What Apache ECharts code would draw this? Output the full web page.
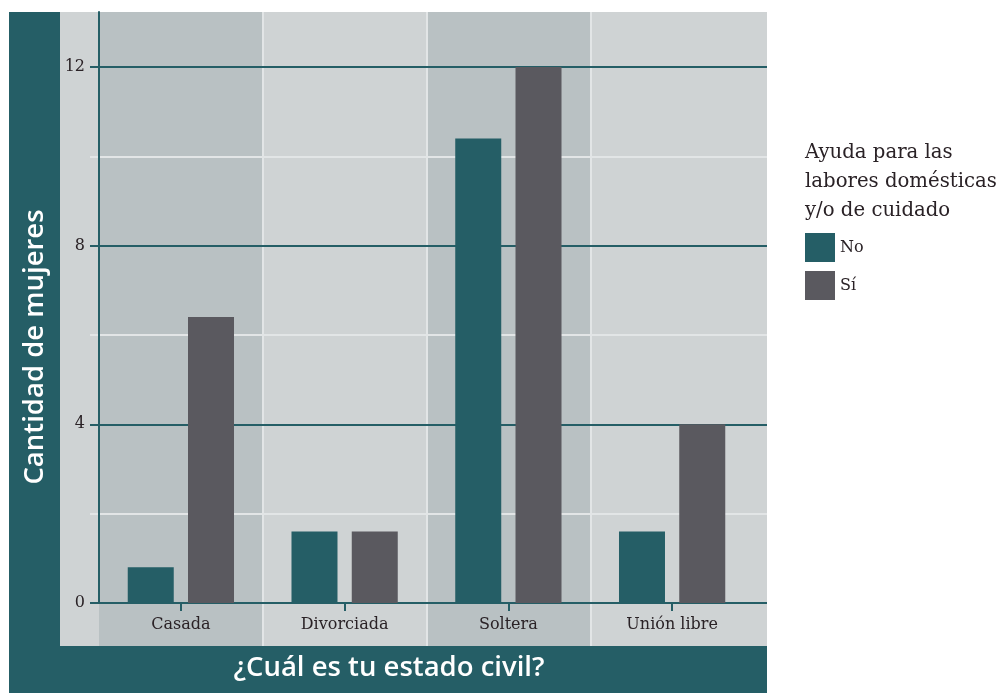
<!DOCTYPE html>
<html>
<head>
<meta charset="utf-8">
<script src="https://cdn.jsdelivr.net/npm/echarts@6/dist/echarts.min.js"></script>
<style>
html,body{margin:0;padding:0;background:#fff;}
#c{width:1001px;height:693px;}
</style>
</head>
<body>
<div id="c"></div>
<script>
var categories = ['Casada', 'Divorciada', 'Soltera', 'Unión libre'];
var seriesNames = ['No', 'Sí'];
var valuesNo = [0.8, 1.6, 10.4, 1.6];
var valuesSi = [6.4, 1.6, 12, 4];
var yTicks = [0, 4, 8, 12];
var yMax = 13.23;

var TEAL = '#255e66';
var GREY_BAR = '#5a595f';
var PANEL = '#cfd3d4';
var BAND = '#b9c1c3';
var WHITE_LINE = '#e2e5e6';
var TEXT = '#2a2226';
var SERIF = '"DejaVu Serif", serif';
var SANS = '"Open Sans", "Noto Sans", sans-serif';

var chart = echarts.init(document.getElementById('c'), null, {renderer: 'canvas'});
chart.setOption({
  animation: false,
  backgroundColor: '#ffffff',
  graphic: [
    {type: 'rect', z: -20, shape: {x: 9, y: 12, width: 758, height: 681}, style: {fill: TEAL}},
    {type: 'rect', z: -19, shape: {x: 60, y: 12, width: 707, height: 634}, style: {fill: PANEL}},
    {type: 'text', z: 10, x: 35, y: 347, rotation: Math.PI / 2,
      style: {text: 'Cantidad de mujeres', fill: '#ffffff', font: '600 27.5px ' + SANS, align: 'center', verticalAlign: 'middle'}},
    {type: 'text', z: 10, x: 389, y: 668,
      style: {text: '¿Cuál es tu estado civil?', fill: '#ffffff', font: '600 27.5px ' + SANS, align: 'center', verticalAlign: 'middle'}},
    {type: 'text', z: 10, x: 805, y: 138,
      style: {text: 'Ayuda para las\nlabores domésticas\ny/o de cuidado', fill: TEXT, font: '19.7px ' + SERIF, lineHeight: 29, align: 'left', verticalAlign: 'top'}}
  ],
  legend: {
    data: seriesNames,
    orient: 'vertical',
    left: 805,
    top: 233,
    padding: 0,
    itemWidth: 30,
    itemHeight: 29,
    itemGap: 9,
    icon: 'rect',
    textStyle: {fontFamily: SERIF, fontSize: 16, color: TEXT}
  },
  grid: [
    {left: 99, top: 12, width: 655, bottom: 90},
    {left: 90, top: 12, right: 234, bottom: 90},
    {left: 99, top: 12, width: 655, bottom: 47}
  ],
  xAxis: [
    {
      gridIndex: 0, type: 'category', data: categories, z: 3,
      axisLine: {show: true, lineStyle: {color: TEAL, width: 2}},
      axisTick: {show: true, alignWithLabel: true, length: 8, lineStyle: {color: TEAL, width: 2}},
      axisLabel: {fontFamily: SERIF, fontSize: 16, color: TEXT, margin: 14},
      splitLine: {show: false}
    },
    {gridIndex: 1, type: 'value', show: false},
    {
      gridIndex: 2, type: 'category', data: categories, z: 0,
      axisLine: {show: false}, axisTick: {show: false}, axisLabel: {show: false},
      splitArea: {show: true, areaStyle: {color: [BAND, 'rgba(0,0,0,0)']}},
      splitLine: {show: true, showMinLine: false, showMaxLine: false, lineStyle: {color: WHITE_LINE, width: 2}}
    }
  ],
  yAxis: [
    {
      gridIndex: 0, type: 'value', min: 0, max: yMax, interval: 4, z: 3,
      axisLine: {show: true, lineStyle: {color: TEAL, width: 2}},
      axisTick: {show: false},
      axisLabel: {fontFamily: SERIF, fontSize: 16, color: TEXT, margin: 14, customValues: yTicks},
      splitLine: {show: false}
    },
    {
      gridIndex: 1, type: 'value', min: 0, max: yMax, interval: 2, z: 1,
      axisLine: {show: false}, axisTick: {show: false}, axisLabel: {show: false},
      splitLine: {show: true, showMinLine: true, showMaxLine: false, lineStyle: {color: [TEAL, WHITE_LINE], width: 2}}
    },
    {gridIndex: 2, type: 'value', show: false, min: 0, max: 1}
  ],
  series: [
    {name: seriesNames[0], type: 'bar', xAxisIndex: 0, yAxisIndex: 0, data: valuesNo, barWidth: 46, barGap: '31%', itemStyle: {color: TEAL}, z: 5},
    {name: seriesNames[1], type: 'bar', xAxisIndex: 0, yAxisIndex: 0, data: valuesSi, barWidth: 46, barGap: '31%', itemStyle: {color: GREY_BAR}, z: 5}
  ]
});
</script>
</body>
</html>
